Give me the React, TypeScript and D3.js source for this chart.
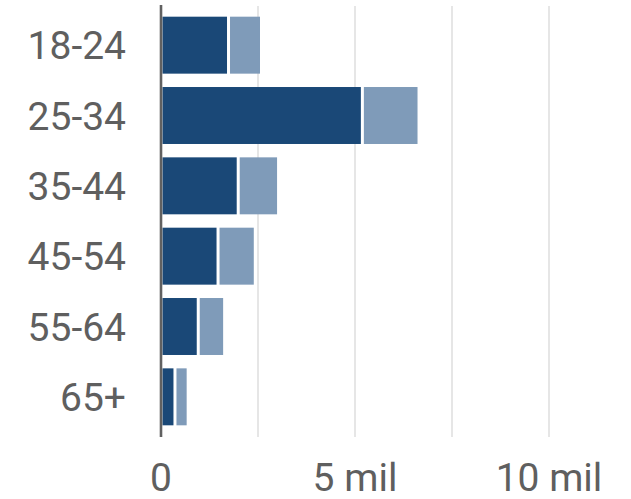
import React from "react";
import * as d3 from "d3";

const categories = ["18-24", "25-34", "35-44", "45-54", "55-64", "65+"];
const seriesA = [1.74, 5.19, 1.99, 1.47, 0.96, 0.36];
const seriesB = [0.85, 1.46, 1.04, 0.96, 0.68, 0.34];
const gridValues = [2.5, 5, 7.5, 10];
const tickValues = [0, 5, 10];
const tickLabels = ["0", "5 mil", "10 mil"];

const W = 631;
const H = 499;

export default function App() {
  const x = d3.scaleLinear().domain([0, 10]).range([161, 549]);
  const y = d3
    .scaleBand<string>()
    .domain(categories)
    .range([10, 432])
    .paddingInner(0.19)
    .paddingOuter(0.095);

  const stacked = categories.map((c, i) => ({
    c,
    segs: [
      { s: 0, e: seriesA[i], color: "#1a4877" },
      { s: seriesA[i], e: seriesA[i] + seriesB[i], color: "#7f9bb9" },
    ],
  }));

  const font = "Roboto, 'Noto Sans', sans-serif";

  return (
    <div style={{ position: "absolute", left: 0, top: 0 }}>
      <svg width={W} height={H} style={{ display: "block", background: "#fff" }}>
        {gridValues.map((g) => (
          <line
            key={g}
            x1={x(g)}
            x2={x(g)}
            y1={6}
            y2={437}
            stroke="#e6e6e6"
            strokeWidth={2}
          />
        ))}
        {stacked.map((d) => (
          <g key={d.c}>
            {d.segs.map((s, j) => (
              <rect
                key={j}
                x={x(s.s) + 1.5}
                y={y(d.c)!}
                width={Math.max(0, x(s.e) - x(s.s) - 3)}
                height={y.bandwidth()}
                fill={s.color}
              />
            ))}
            <text
              x={126}
              y={y(d.c)! + y.bandwidth() / 2 + 14}
              textAnchor="end"
              fontFamily={font}
              fontSize={39}
              fill="#5f5f5f"
            >
              {d.c}
            </text>
          </g>
        ))}
        <line x1={161} x2={161} y1={5} y2={437} stroke="#616161" strokeWidth={2.6} />
        {tickValues.map((t, i) => (
          <text
            key={t}
            x={x(t)}
            y={491}
            textAnchor="middle"
            fontFamily={font}
            fontSize={39}
            fill="#5f5f5f"
          >
            {tickLabels[i]}
          </text>
        ))}
      </svg>
    </div>
  );
}
